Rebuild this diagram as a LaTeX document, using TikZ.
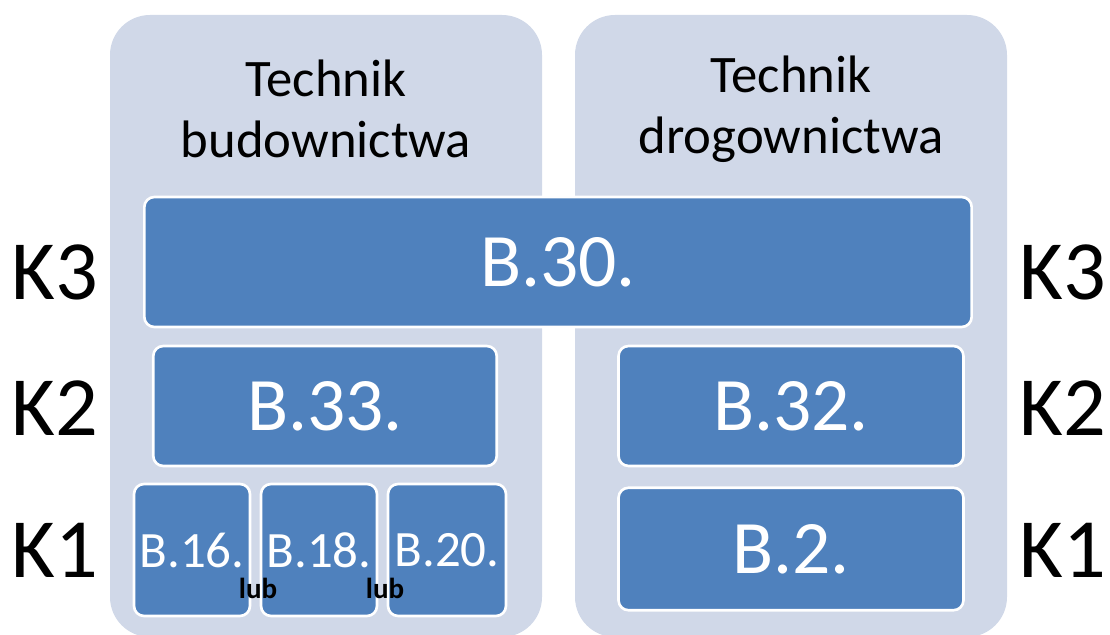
\documentclass[tikz,border=0pt]{standalone}
\usepackage{fontspec}
\setmainfont{Carlito}
\definecolor{panelbg}{RGB}{208,216,232}
\definecolor{exambg}{RGB}{79,129,189}

\begin{document}
\begin{tikzpicture}[x=0.02cm,y=-0.02cm,
	panel/.style={fill=panelbg,rounded corners=0.8cm},
	exam/.style={draw=white,line width=1.5pt,fill=exambg,rounded corners=0.2cm,text=white,inner sep=0pt},
	level/.style={font=\fontsize{48}{56}\selectfont,inner sep=0pt},
	title/.style={font=\fontsize{30}{35}\selectfont,align=center,inner sep=0pt},
	lub/.style={font=\fontsize{16.5}{18}\selectfont\bfseries,inner sep=0pt}]
			\useasboundingbox (0,0) rectangle (1110,635);
			\clip (0,0) rectangle (1110,635);
			% panels
			\fill [panel] (110,15) rectangle (542,637);
			\fill [panel] (575,15) rectangle (1007,637);
			\node [title] (tb) at (326,109) {Technik\\budownictwa};
			\node [title] (td) at (791,109) {Technik\\drogownictwa};
			% exams
			\node [exam,minimum width=16.55cm,minimum height=2.6cm,font=\fontsize{43}{50}\selectfont] (b30) at (558,262) {B.30.};
			\node [exam,minimum width=6.87cm,minimum height=2.4cm,font=\fontsize{43}{50}\selectfont] (b33) at (325,406) {B.33.};
			\node [exam,minimum width=6.9cm,minimum height=2.4cm,font=\fontsize{43}{50}\selectfont] (b32) at (791,406) {B.32.};
			\node [exam,minimum width=6.9cm,minimum height=2.45cm,font=\fontsize{43}{50}\selectfont] (b2) at (791,549) {B.2.};
			\node [exam,minimum width=2.32cm,minimum height=2.64cm,font=\fontsize{29}{34}\selectfont] (b16) at (192,550) {B.16.};
			\node [exam,minimum width=2.32cm,minimum height=2.64cm,font=\fontsize{29}{34}\selectfont] (b18) at (319,550) {B.18.};
			\node [exam,minimum width=2.36cm,minimum height=2.64cm,font=\fontsize{29}{34}\selectfont] (b20) at (447,550) {B.20.};
			\node [lub] (lub1) at (258,588) {lub};
			\node [lub] (lub2) at (385,588) {lub};
			% levels
			\node [level] (k3l) at (55,272) {K3};
			\node [level] (k2l) at (55,408) {K2};
			\node [level] (k1l) at (55,550) {K1};
			\node [level] (k3r) at (1063,272) {K3};
			\node [level] (k2r) at (1063,408) {K2};
			\node [level] (k1r) at (1063,550) {K1};
		\end{tikzpicture}
\end{document}
